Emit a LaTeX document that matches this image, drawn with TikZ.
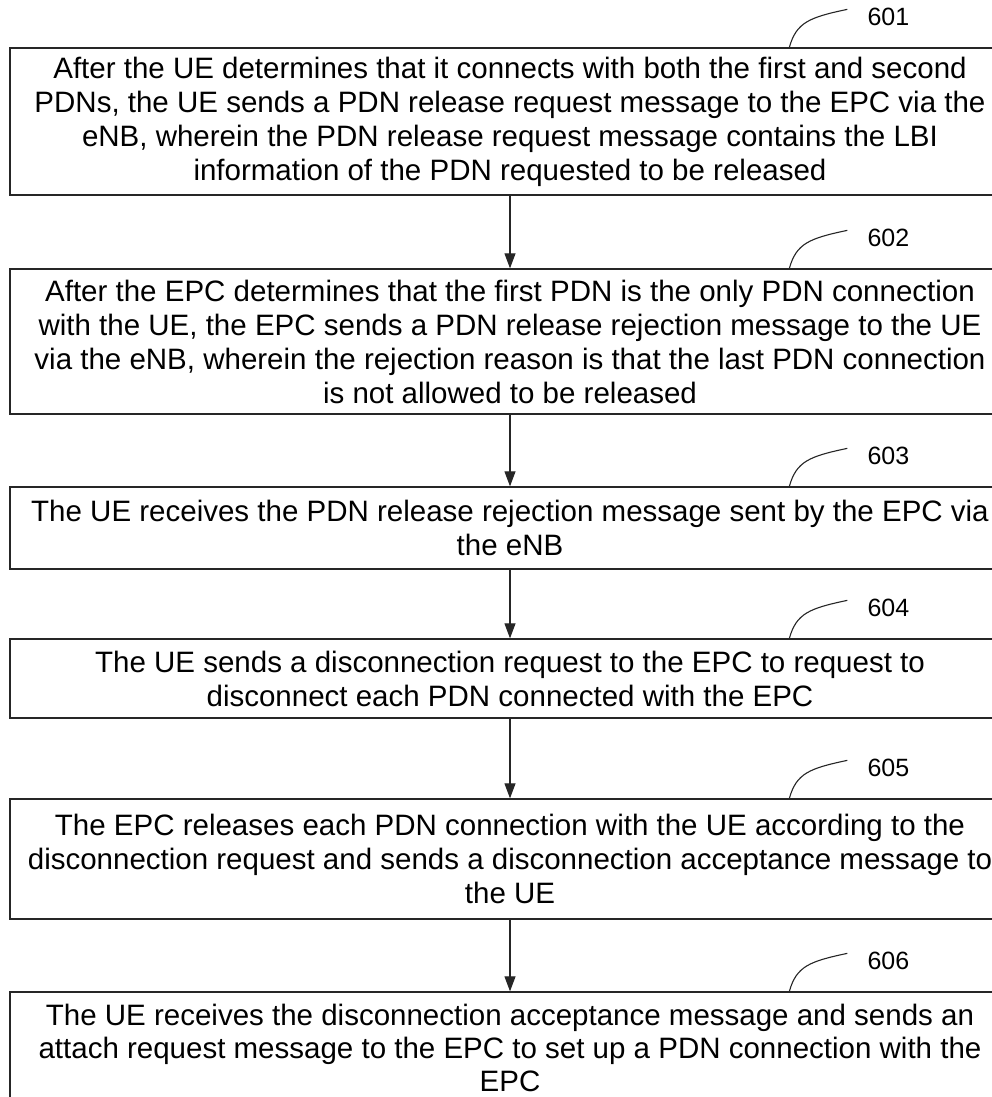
\documentclass[tikz,border=0pt]{standalone}
\usepackage{fontspec}
\setmainfont{Liberation Sans}
\usetikzlibrary{arrows.meta,calc}
\tikzset{
  stepbox/.style={draw=black!85,line width=1.3pt,minimum width=1000pt,align=center,
    inner sep=0pt,font=\fontsize{29.5}{34}\selectfont},
  flow/.style={draw=black!85,line width=1.1pt,-{Triangle[length=15pt,width=11pt]}},
  lead/.style={draw=black!85,line width=1.1pt},
  tag/.style={anchor=west,inner sep=0pt,font=\fontsize{25}{30}\selectfont}
}
\begin{document}
\begin{tikzpicture}[x=1pt,y=-1pt]
\useasboundingbox (0,0) rectangle (992,1097);
% steps
\node[stepbox,minimum height=147pt] (s1) at (510,121.5)
  {After the UE determines that it connects with both the first and second\\
   PDNs, the UE sends a PDN release request message to the EPC via the\\
   eNB, wherein the PDN release request message contains the LBI\\
   information of the PDN requested to be released};
\node[stepbox,minimum height=145pt] (s2) at (510,341.5)
  {After the EPC determines that the first PDN is the only PDN connection\\
   with the UE, the EPC sends a PDN release rejection message to the UE\\
   via the eNB, wherein the rejection reason is that the last PDN connection\\
   is not allowed to be released};
\node[stepbox,minimum height=82pt] (s3) at (510,528)
  {The UE receives the PDN release rejection message sent by the EPC via\\
   the eNB};
\node[stepbox,minimum height=79pt] (s4) at (510,678.5)
  {The UE sends a disconnection request to the EPC to request to\\
   disconnect each PDN connected with the EPC};
\node[stepbox,minimum height=120pt] (s5) at (510,859)
  {The EPC releases each PDN connection with the UE according to the\\
   disconnection request and sends a disconnection acceptance message to\\
   the UE};
\node[stepbox,minimum height=112pt,font=\fontsize{29.5}{33}\selectfont] (s6) at (510,1048)
  {The UE receives the disconnection acceptance message and sends an\\
   attach request message to the EPC to set up a PDN connection with the\\
   EPC};
% arrows
\foreach \a/\b in {s1/s2,s2/s3,s3/s4,s4/s5,s5/s6}
  \draw[flow] (\a.south) -- (\b.north);
% reference numbers
\foreach \s/\n in {s1/601,s2/602,s3/603,s4/604,s5/605,s6/606} {
  \coordinate (t\n) at ($(\s.north west)+(780,0)$);
  \draw[lead] (t\n) .. controls ($(t\n)+(7,-25)$) and ($(t\n)+(20,-30)$) .. ($(t\n)+(58,-38)$);
  \node[tag] (l\n) at ($(t\n)+(78,-30)$) {\n};
}
\end{tikzpicture}
\end{document}
